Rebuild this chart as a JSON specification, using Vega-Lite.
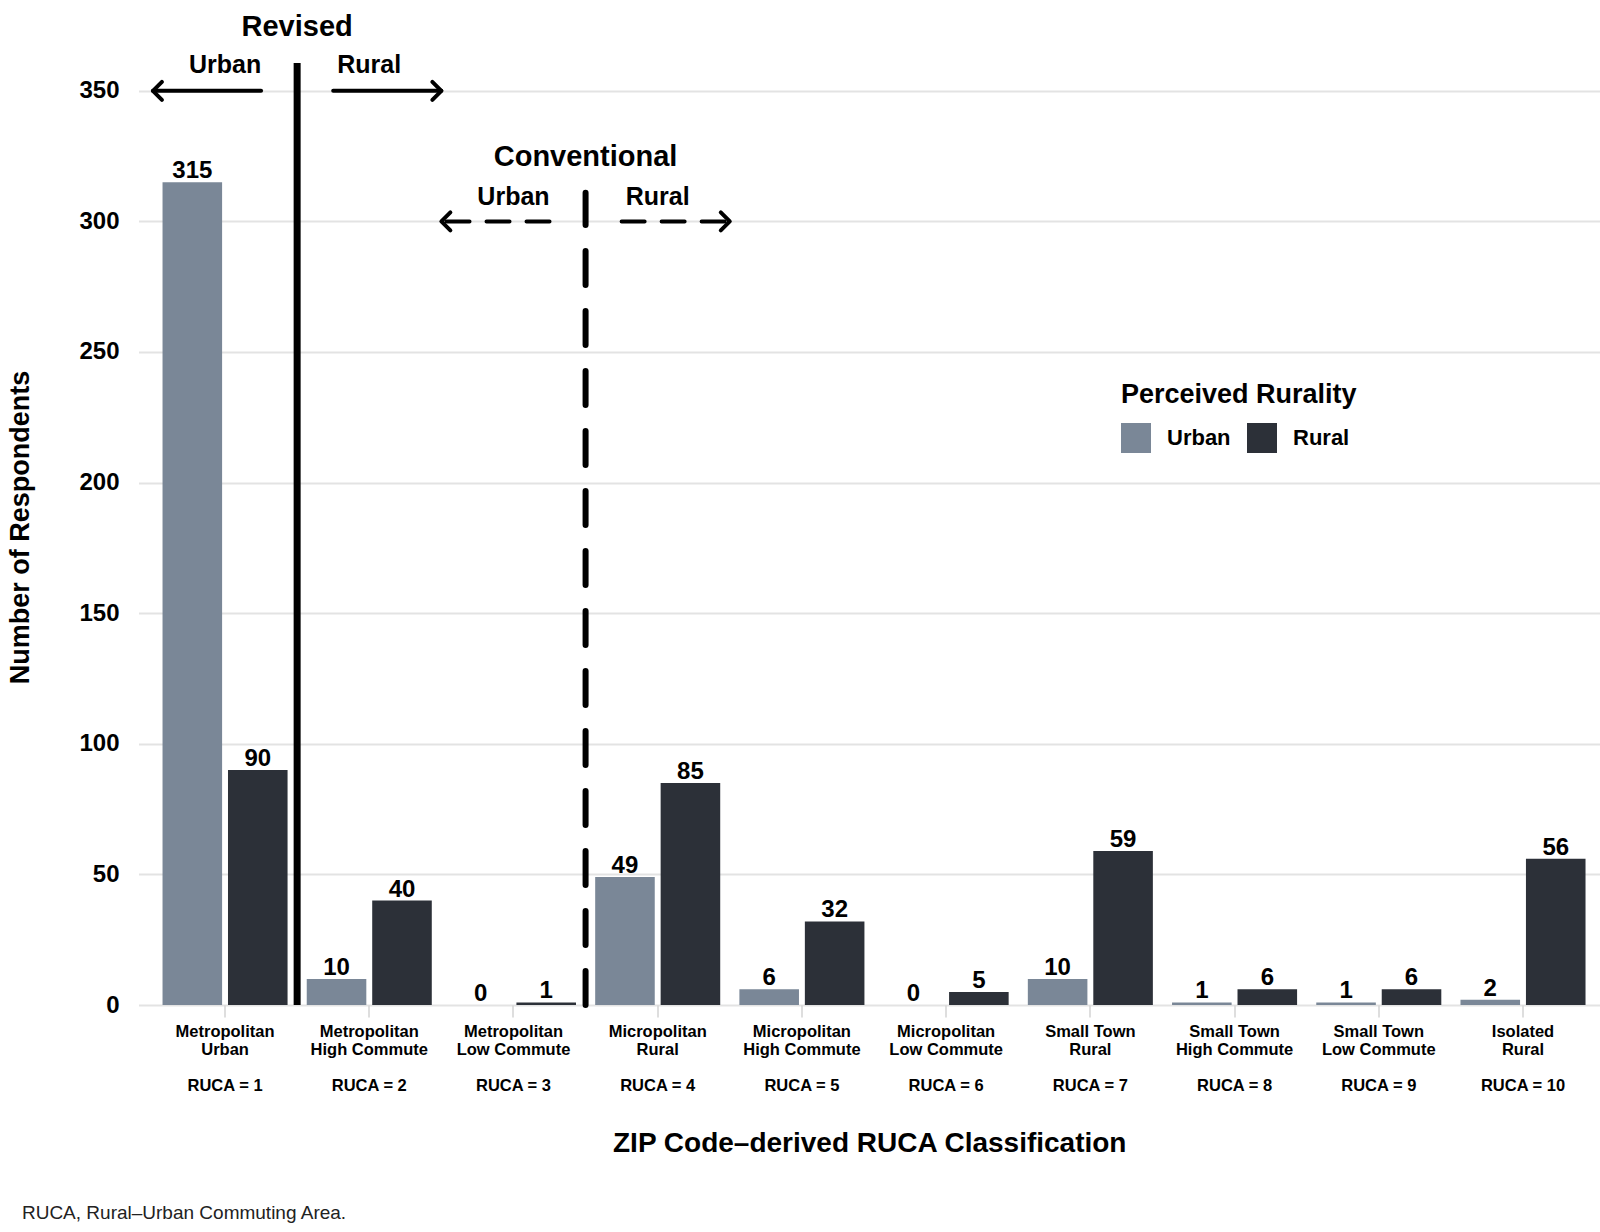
{
  "$schema": "https://vega.github.io/schema/vega-lite/v6.json",
  "width": 1461.5,
  "height": 956,
  "autosize": {"type": "none"},
  "padding": {"left": 138.5, "top": 49, "right": 0, "bottom": 227},
  "background": "white",
  "config": {"view": {"stroke": null}, "font": "Liberation Sans"},
  "title": {"text": "RUCA, Rural–Urban Commuting Area.", "orient": "bottom", "anchor": "start", "frame": "bounds", "fontSize": 19, "fontWeight": "normal", "font": "Liberation Sans", "color": "#222222", "offset": 47, "dx": 15},
  "datasets": {
    "counts": [
      {"category": "Metropolitan|Urban|\u2800|RUCA = 1", "perceived": "Urban", "n": 315},
      {"category": "Metropolitan|Urban|\u2800|RUCA = 1", "perceived": "Rural", "n": 90},
      {"category": "Metropolitan|High Commute|\u2800|RUCA = 2", "perceived": "Urban", "n": 10},
      {"category": "Metropolitan|High Commute|\u2800|RUCA = 2", "perceived": "Rural", "n": 40},
      {"category": "Metropolitan|Low Commute|\u2800|RUCA = 3", "perceived": "Urban", "n": 0},
      {"category": "Metropolitan|Low Commute|\u2800|RUCA = 3", "perceived": "Rural", "n": 1},
      {"category": "Micropolitan|Rural|\u2800|RUCA = 4", "perceived": "Urban", "n": 49},
      {"category": "Micropolitan|Rural|\u2800|RUCA = 4", "perceived": "Rural", "n": 85},
      {"category": "Micropolitan|High Commute|\u2800|RUCA = 5", "perceived": "Urban", "n": 6},
      {"category": "Micropolitan|High Commute|\u2800|RUCA = 5", "perceived": "Rural", "n": 32},
      {"category": "Micropolitan|Low Commute|\u2800|RUCA = 6", "perceived": "Urban", "n": 0},
      {"category": "Micropolitan|Low Commute|\u2800|RUCA = 6", "perceived": "Rural", "n": 5},
      {"category": "Small Town|Rural|\u2800|RUCA = 7", "perceived": "Urban", "n": 10},
      {"category": "Small Town|Rural|\u2800|RUCA = 7", "perceived": "Rural", "n": 59},
      {"category": "Small Town|High Commute|\u2800|RUCA = 8", "perceived": "Urban", "n": 1},
      {"category": "Small Town|High Commute|\u2800|RUCA = 8", "perceived": "Rural", "n": 6},
      {"category": "Small Town|Low Commute|\u2800|RUCA = 9", "perceived": "Urban", "n": 1},
      {"category": "Small Town|Low Commute|\u2800|RUCA = 9", "perceived": "Rural", "n": 6},
      {"category": "Isolated|Rural|\u2800|RUCA = 10", "perceived": "Urban", "n": 2},
      {"category": "Isolated|Rural|\u2800|RUCA = 10", "perceived": "Rural", "n": 56}
    ],
    "solidVertical": [{"x": 1.5, "y": 0, "y2": 360.6}],
    "solidShafts": [{"x": 1.25, "x2": 0.5, "y": 350}, {"x": 1.75, "x2": 2.5, "y": 350}],
    "dashedVertical": [{"x": 3.5, "y": 0, "y2": 311}],
    "dashedShafts": [{"x": 3.25, "x2": 2.5, "y": 300}, {"x": 3.75, "x2": 4.5, "y": 300}],
    "arrowheads": [
      {"x": 0.5, "y": 350, "dir": "left"},
      {"x": 2.5, "y": 350, "dir": "right"},
      {"x": 2.5, "y": 300, "dir": "left"},
      {"x": 4.5, "y": 300, "dir": "right"}
    ],
    "headings": [
      {"x": 1.5, "y": 374.4, "label": "Revised"},
      {"x": 3.5, "y": 324.7, "label": "Conventional"}
    ],
    "sides": [
      {"x": 1, "y": 360, "label": "Urban"},
      {"x": 2, "y": 360, "label": "Rural"},
      {"x": 3, "y": 309.3, "label": "Urban"},
      {"x": 4, "y": 309.3, "label": "Rural"}
    ]
  },
  "layer": [
    {
      "data": {"name": "counts"},
      "encoding": {
        "x": {
          "field": "category", "type": "nominal", "sort": null,
          "scale": {"paddingInner": 0.133, "paddingOuter": 0.1335, "align": 0.624},
          "axis": {
            "title": "ZIP Code–derived RUCA Classification",
            "labelExpr": "split(datum.label, '|')",
            "labelAngle": 0, "labelFontSize": 16.5, "labelFontWeight": "bold", "labelColor": "black",
            "labelLineHeight": 18, "labelPadding": 6, "labelBaseline": "top",
            "tickSize": 12, "tickColor": "#d3d3d3", "tickWidth": 1.5,
            "domain": false, "grid": false,
            "titleFontSize": 28, "titleFontWeight": "bold", "titleColor": "black", "titlePadding": 35.5
          }
        },
        "xOffset": {"field": "perceived", "type": "nominal", "sort": ["Urban", "Rural"], "scale": {"paddingInner": 0.09, "paddingOuter": 0}},
        "y": {
          "field": "n", "type": "quantitative", "title": "Number of Respondents",
          "scale": {"domain": [0, 366], "nice": false, "zero": true},
          "axis": {
            "values": [0, 50, 100, 150, 200, 250, 300, 350],
            "labelFontSize": 24, "labelFontWeight": "bold", "labelColor": "black", "labelPadding": 19.5,
            "ticks": false, "domain": false,
            "gridColor": "#e3e3e3", "gridWidth": 2,
            "titleFontSize": 27, "titleFontWeight": "bold", "titleColor": "black", "titlePadding": 44
          }
        }
      },
      "layer": [
        {
          "mark": {"type": "bar"},
          "encoding": {
            "color": {
              "field": "perceived", "type": "nominal",
              "scale": {"domain": ["Urban", "Rural"], "range": ["#7a8797", "#2c3038"]},
              "legend": {
                "title": "Perceived Rurality", "orient": "none", "legendX": 982.5, "legendY": 333,
                "direction": "horizontal",
                "titleFontSize": 27, "titleFontWeight": "bold", "titleColor": "black", "titlePadding": 14, "titleLimit": 600,
                "labelFontSize": 22, "labelFontWeight": "bold", "labelColor": "black",
                "symbolType": "square", "symbolSize": 900, "symbolStrokeWidth": 0,
                "labelOffset": 16, "columnPadding": 16
              }
            }
          }
        },
        {
          "mark": {"type": "text", "dy": -4, "baseline": "alphabetic", "fontSize": 24, "fontWeight": "bold", "color": "black"},
          "encoding": {"text": {"field": "n", "type": "quantitative"}}
        }
      ]
    },
    {
      "layer": [
        {
          "data": {"name": "solidVertical"},
          "mark": {"type": "rule", "strokeWidth": 7, "color": "black", "strokeCap": "butt"},
          "encoding": {
            "x": {"field": "x", "type": "quantitative", "scale": {"domain": [0.4, 10.534], "nice": false, "zero": false}, "axis": null},
            "y": {"field": "y", "type": "quantitative", "title": "Number of Respondents"},
            "y2": {"field": "y2"}
          }
        },
        {
          "data": {"name": "solidShafts"},
          "mark": {"type": "rule", "strokeWidth": 4, "color": "black", "strokeCap": "round"},
          "encoding": {
            "x": {"field": "x", "type": "quantitative", "axis": null},
            "x2": {"field": "x2"},
            "y": {"field": "y", "type": "quantitative", "title": "Number of Respondents"}
          }
        },
        {
          "data": {"name": "dashedVertical"},
          "mark": {"type": "rule", "strokeWidth": 6, "color": "black", "strokeCap": "round", "strokeDash": [34, 26]},
          "encoding": {
            "x": {"field": "x", "type": "quantitative", "axis": null},
            "y": {"field": "y", "type": "quantitative", "title": "Number of Respondents"},
            "y2": {"field": "y2"}
          }
        },
        {
          "data": {"name": "dashedShafts"},
          "mark": {"type": "rule", "strokeWidth": 4, "color": "black", "strokeCap": "round", "strokeDash": [23, 17]},
          "encoding": {
            "x": {"field": "x", "type": "quantitative", "axis": null},
            "x2": {"field": "x2"},
            "y": {"field": "y", "type": "quantitative", "title": "Number of Respondents"}
          }
        },
        {
          "data": {"name": "arrowheads"},
          "mark": {"type": "point", "filled": false, "size": 324, "stroke": "black", "strokeWidth": 4, "strokeCap": "round", "strokeJoin": "round", "opacity": 1},
          "encoding": {
            "x": {"field": "x", "type": "quantitative", "axis": null},
            "y": {"field": "y", "type": "quantitative", "title": "Number of Respondents"},
            "shape": {"field": "dir", "type": "nominal", "scale": {"domain": ["left", "right"], "range": ["M1,-1L0,0L1,1", "M-1,-1L0,0L-1,1"]}, "legend": null}
          }
        },
        {
          "data": {"name": "headings"},
          "mark": {"type": "text", "fontSize": 29, "fontWeight": "bold", "color": "black", "baseline": "middle", "align": "center"},
          "encoding": {
            "x": {"field": "x", "type": "quantitative", "axis": null},
            "y": {"field": "y", "type": "quantitative", "title": "Number of Respondents"},
            "text": {"field": "label"}
          }
        },
        {
          "data": {"name": "sides"},
          "mark": {"type": "text", "fontSize": 25, "fontWeight": "bold", "color": "black", "baseline": "middle", "align": "center"},
          "encoding": {
            "x": {"field": "x", "type": "quantitative", "axis": null},
            "y": {"field": "y", "type": "quantitative", "title": "Number of Respondents"},
            "text": {"field": "label"}
          }
        }
      ]
    }
  ],
  "resolve": {"scale": {"x": "independent"}}
}
